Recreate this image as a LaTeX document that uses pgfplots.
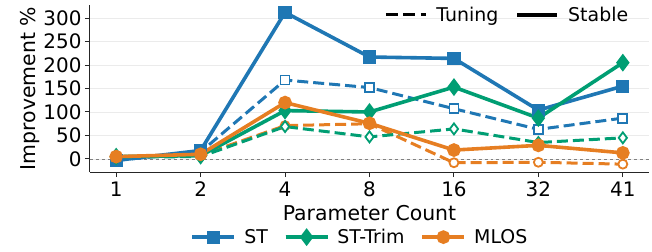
\documentclass[border=0pt]{standalone}
\usepackage{pgfplots}
\pgfplotsset{compat=1.18}
\usepackage{fontspec}
\setmainfont{DejaVu Sans}
\definecolor{cST}{HTML}{1F77B4}
\definecolor{cTrim}{HTML}{009E73}
\definecolor{cML}{HTML}{E67E22}
\begin{document}
\begin{tikzpicture}
\begin{axis}[
  name=ax,
  at={(0,0)}, anchor=south west,
  scale only axis, width=559bp, height=167bp,
  xmin=-0.31, xmax=6.31, ymin=-27.7, ymax=327.7,
  xtick={0,1,2,3,4,5,6}, xticklabels={1,2,4,8,16,32,41},
  ytick={0,50,100,150,200,250,300},
  axis x line*=bottom, axis y line*=left,
  axis line style={line width=1bp, black!85, -},
  tick style={line width=1bp, black!85},
  tick align=outside, major tick length=5bp,
  ymajorgrids, grid style={line width=0.8bp, black!8},
  /pgf/number format/assume math mode=true,
  tick label style={font=\fontsize{20}{22}\selectfont},
  xticklabel style={yshift=-1bp},
  xlabel={Parameter Count}, ylabel={Improvement \%},
  xlabel style={font=\fontsize{20.5}{22}\selectfont, yshift=-2bp},
  ylabel style={font=\fontsize{20.5}{22}\selectfont, yshift=-3bp},
  legend style={at={(0.483,-0.39)}, anchor=center, draw=none, fill=none,
    legend columns=3, font=\fontsize{19}{21}\selectfont,
    /tikz/every odd column/.append style={column sep=6bp},
    /tikz/every even column/.append style={column sep=14bp}},
  legend image code/.code={
    \draw[#1] (0bp,0bp) -- (42bp,0bp);
    \draw[#1, mark repeat=2, mark phase=2] plot coordinates {(0bp,0bp) (21bp,0bp) (42bp,0bp)};
  },
]
\addplot[forget plot, gray, dashed, line width=0.8bp] coordinates {(-0.31,0) (6.31,0)};
% Tuning (dashed, open markers)
\addplot[forget plot, cST, line width=3bp, dash pattern=on 11bp off 5bp, mark=square*, mark size=4.5bp, mark options={solid, fill=white, line width=1.8bp}]
  coordinates {(0,-3) (1,15) (2,168) (3,152) (4,107) (5,63) (6,87)};
\addplot[forget plot, cML, line width=3bp, dash pattern=on 11bp off 5bp, mark=*, mark size=4.5bp, mark options={solid, fill=white, line width=1.8bp}]
  coordinates {(0,5) (1,8) (2,71) (3,75) (4,-8) (5,-7) (6,-11)};
\addplot[forget plot, cTrim, line width=3bp, dash pattern=on 11bp off 5bp, mark=diamond*, mark size=5.5bp, mark options={solid, fill=white, line width=1.8bp}]
  coordinates {(0,4) (1,5) (2,69) (3,47) (4,64) (5,35) (6,45)};
% Stable (solid, filled)
\addplot[cST, line width=3.6bp, mark=square*, mark size=4.8bp, mark options={solid}]
  coordinates {(0,-3) (1,18) (2,312) (3,217) (4,214) (5,104) (6,155)};
\addplot[cTrim, line width=3.6bp, mark=diamond*, mark size=6bp, mark options={solid}]
  coordinates {(0,5) (1,7) (2,103) (3,100) (4,153) (5,87) (6,205)};
\addplot[cML, line width=3.6bp, mark=*, mark size=5bp, mark options={solid}]
  coordinates {(0,5) (1,10) (2,120) (3,76) (4,19) (5,29) (6,13)};
\legend{ST,ST-Trim,MLOS}
\end{axis}
\begin{axis}[
  at={(0,0)}, anchor=south west,
  scale only axis, width=559bp, height=167bp,
  xmin=0, xmax=1, ymin=0, ymax=1, hide axis,
  legend style={at={(0.972,1.015)}, anchor=north east, draw=none, fill=none,
    legend columns=2, font=\fontsize{19}{21}\selectfont,
    /tikz/every odd column/.append style={column sep=7bp},
    /tikz/every even column/.append style={column sep=15bp}},
  legend image code/.code={\draw[#1] (0bp,0bp) -- (40bp,0bp);},
]
\addlegendimage{black, line width=3bp, dash pattern=on 12bp off 5.5bp}
\addlegendentry{Tuning}
\addlegendimage{black, line width=3.8bp}
\addlegendentry{Stable}
\end{axis}
\pgfresetboundingbox
\path (ax.south west) ++(-90bp,-80bp) rectangle ++(652bp,252bp);
\end{tikzpicture}
\end{document}
